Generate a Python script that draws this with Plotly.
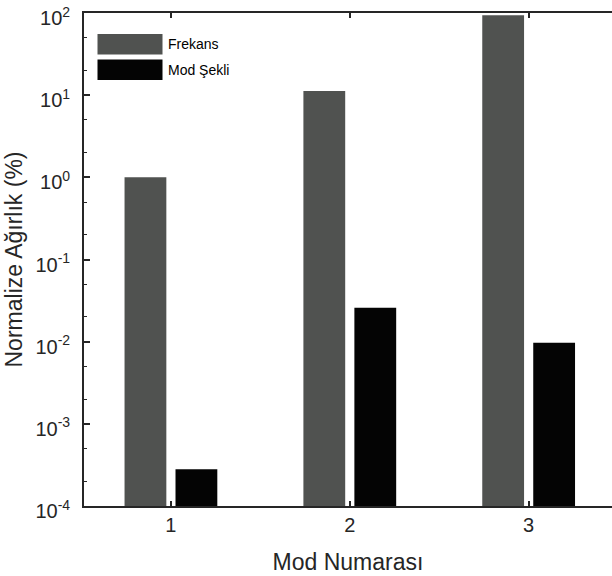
import plotly.graph_objects as go

# Data
modes = [1, 2, 3]
frekans = [1.0, 11.2, 94.0]
mod_sekli = [2.8e-4, 0.0258, 0.0097]
series_names = ["Frekans", "Mod Şekli"]
series_colors = ["#505250", "#040404"]
ytick_vals = [1e-4, 1e-3, 1e-2, 1e-1, 1e0, 1e1, 1e2]
ytick_text = ["10<sup>-4</sup>", "10<sup>-3</sup>", "10<sup>-2</sup>", "10<sup>-1</sup>",
              "10<sup>0</sup>", "10<sup>1</sup>", "10<sup>2</sup>"]

W, H = 612, 576
L, R, T, B = 84, 0, 13, 70
FONT = "Liberation Sans, Arial, Helvetica, sans-serif"
AXC = "#262626"

fig = go.Figure()
for name, vals, col in zip(series_names, [frekans, mod_sekli], series_colors):
    fig.add_trace(go.Bar(x=modes, y=vals, name=name, marker=dict(color=col, line=dict(width=0)),
                         showlegend=False))

# Legend drawn as large swatches with labels
pw, ph = W - L - R, H - T - B
def px_x(v):
    return (v - L) / pw
def px_y(v):
    return (H - B - v) / ph

shapes = []
annotations = []
for i, (name, col) in enumerate(zip(series_names, series_colors)):
    y0 = 34 + i * 25.5
    shapes.append(dict(type="rect", xref="paper", yref="paper",
                       x0=px_x(97.5), x1=px_x(162.5), y0=px_y(y0 + 20.5), y1=px_y(y0),
                       fillcolor=col, line=dict(width=0)))
    annotations.append(dict(xref="paper", yref="paper", x=px_x(166), y=px_y(y0 + 10.5),
                            text=name, showarrow=False, xanchor="left", yanchor="middle",
                            font=dict(family=FONT, size=14, color="#000000")))

fig.update_layout(
    width=W, height=H,
    margin=dict(l=L, r=R, t=T, b=B, pad=0),
    paper_bgcolor="white", plot_bgcolor="white",
    barmode="group", bargap=0.43, bargroupgap=0.18,
    font=dict(family=FONT, size=20, color=AXC),
    shapes=shapes, annotations=annotations,
    xaxis=dict(
        range=[0.514, 3.466], tickvals=modes, ticktext=[str(m) for m in modes],
        ticks="inside", ticklen=5, tickwidth=1.5, tickcolor=AXC,
        showline=True, linewidth=1.8, linecolor=AXC, mirror="ticks",
        showgrid=False, zeroline=False, ticklabelstandoff=0, automargin=False,
        tickfont=dict(family=FONT, size=20, color=AXC),
        title=dict(text="Mod Numarası", font=dict(family=FONT, size=23, color=AXC), standoff=19),
    ),
    yaxis=dict(
        type="log", range=[-4, 2], tickvals=ytick_vals, ticktext=ytick_text,
        ticks="inside", ticklen=6, tickwidth=1.5, tickcolor=AXC,
        minor=dict(ticks="inside", ticklen=3, tickwidth=1, tickcolor=AXC, showgrid=False),
        showline=True, linewidth=1.8, linecolor=AXC, mirror=False,
        showgrid=False, zeroline=False, ticklabelstandoff=8, ticklabelshift=5,
        ticklabeloverflow="allow", automargin=False,
        tickfont=dict(family=FONT, size=20, color=AXC),
        title=dict(text="Normalize Ağırlık (%)", font=dict(family=FONT, size=23, color=AXC), standoff=6),
    ),
    # right-hand ticks only (the frame edge sits at the page border)
    yaxis2=dict(
        type="log", range=[-4, 2], overlaying="y", side="right", tickvals=ytick_vals,
        ticks="inside", ticklen=2, tickwidth=2, tickcolor=AXC,
        showticklabels=False, showline=False, showgrid=False, zeroline=False,
    ),
)

fig.write_html("out.html")
